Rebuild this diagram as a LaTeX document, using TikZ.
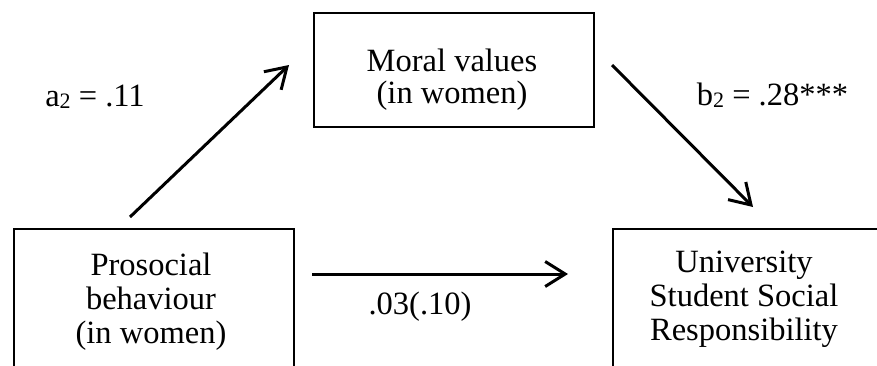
\documentclass[tikz,border=0pt]{standalone}
\usepackage{fontspec}
\setmainfont{Liberation Serif}
\usetikzlibrary{arrows.meta}
\newcommand\mysubtwo{{\fontsize{22}{22}\selectfont\raisebox{-2pt}{2}}}
\begin{document}
\begin{tikzpicture}[x=1pt,y=-1pt,
  boxshape/.style={draw,line width=2.1pt,inner sep=0pt},
  lbl/.style={font=\fontsize{32.5}{33}\selectfont, align=center, inner sep=0pt},
  conn/.style={line width=3pt,-{Straight Barb[length=20pt,width=25pt]}}]
\useasboundingbox (0,0) rectangle (877,365);
\clip (0,0) rectangle (877,365);
% boxes
\node[boxshape, minimum width=280pt, minimum height=114pt, anchor=north west] (moralbox) at (313,12) {};
\node[boxshape, minimum width=280pt, minimum height=180pt, anchor=north west] (probox) at (13,228) {};
\node[boxshape, minimum width=280pt, minimum height=180pt, anchor=north west] (unibox) at (612,228) {};
% texts
\node[lbl, font=\fontsize{32.5}{32}\selectfont] (moraltext) at (452,80) {Moral values\\(in women)};
\node[lbl, font=\fontsize{32.5}{34}\selectfont] (protext) at (151,302) {Prosocial\\behaviour\\(in women)};
\node[lbl, font=\fontsize{32.5}{34}\selectfont] (unitext) at (744,299) {University\\Student Social\\Responsibility};
% connectors
\coordinate (aS) at (130,217); \coordinate (aE) at (289,65);
\coordinate (bS) at (612,65);  \coordinate (bE) at (753,207);
\coordinate (cS) at (312,274); \coordinate (cE) at (568,274);
\draw[conn] (aS) -- (aE);
\draw[conn] (bS) -- (bE);
\draw[conn] (cS) -- (cE);
% labels
\node[lbl, anchor=base] (alab) at (95,106) {a\mysubtwo{} = .11};
\node[lbl, anchor=base] (blab) at (772.5,105) {b\mysubtwo{} = .28***};
\node[lbl, anchor=base] (clab) at (420,314) {.03(.10)};
\end{tikzpicture}
\end{document}
